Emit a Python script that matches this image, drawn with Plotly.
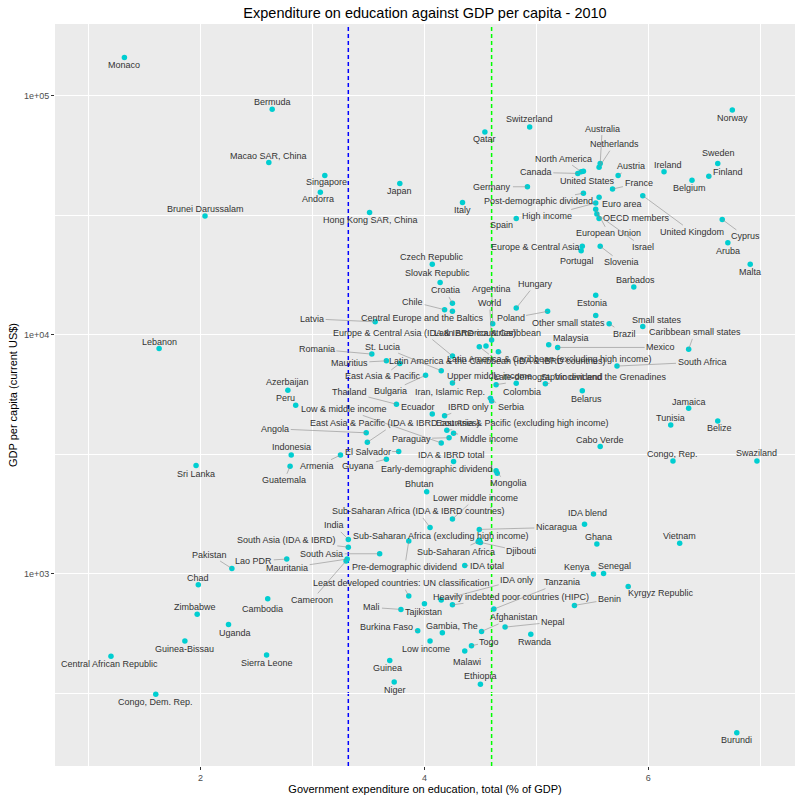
import numpy as np
import plotly.graph_objects as go

# 2010 values: education spend (% of GDP) and GDP per capita (US$)
country = [
    "Monaco", "Bermuda", "Macao SAR, China", "Brunei Darussalam", "Singapore",
    "Andorra", "Japan", "Hong Kong SAR, China", "Qatar", "Switzerland",
    "Germany", "Italy", "Spain", "High income", "Czech Republic",
    "Slovak Republic", "Croatia", "Chile", "Argentina", "Hungary",
    "Europe & Central Asia", "Portugal", "Norway", "Australia", "Netherlands",
    "North America", "Canada", "United States", "Austria", "Ireland",
    "Sweden", "Finland", "Belgium", "France", "United Kingdom",
    "Post-demographic dividend", "Euro area", "OECD members", "European Union", "Israel",
    "Cyprus", "Aruba", "Malta", "Slovenia", "Barbados",
    "Estonia", "Poland", "World", "Latvia", "Central Europe and the Baltics",
    "Other small states", "Brazil", "Small states", "Caribbean small states", "Malaysia",
    "Mexico", "South Africa", "Europe & Central Asia (IDA & IBRD countries)", "Latin America & Caribbean", "Lebanon",
    "Romania", "St. Lucia", "Mauritius", "Latin America & the Caribbean (IDA & IBRD countries)", "Latin America & Caribbean (excluding high income)",
    "East Asia & Pacific", "Upper middle income", "Late-demographic dividend", "St. Vincent and the Grenadines", "Colombia",
    "Belarus", "Thailand", "Bulgaria", "Iran, Islamic Rep.", "Serbia",
    "Azerbaijan", "Peru", "Low & middle income", "Ecuador", "IBRD only",
    "Angola", "East Asia & Pacific (IDA & IBRD countries)", "East Asia & Pacific (excluding high income)", "Middle income", "Paraguay",
    "Indonesia", "Sri Lanka", "Guatemala", "Armenia", "El Salvador",
    "Guyana", "IDA & IBRD total", "Early-demographic dividend", "Mongolia", "Bhutan",
    "Lower middle income", "Sub-Saharan Africa (IDA & IBRD countries)", "India", "South Asia (IDA & IBRD)", "Pre-demographic dividend",
    "Sub-Saharan Africa (excluding high income)", "Sub-Saharan Africa", "Djibouti", "Nicaragua", "IDA blend",
    "Ghana", "Vietnam", "South Asia", "Mauritania", "Cameroon",
    "IDA total", "Pakistan", "Lao PDR", "Chad", "Least developed countries: UN classification",
    "IDA only", "Heavily indebted poor countries (HIPC)", "Tanzania", "Mali", "Tajikistan",
    "Kenya", "Senegal", "Kyrgyz Republic", "Benin", "Cambodia",
    "Zimbabwe", "Uganda", "Guinea-Bissau", "Central African Republic", "Sierra Leone",
    "Congo, Dem. Rep.", "Afghanistan", "Nepal", "Rwanda", "Burkina Faso",
    "Gambia, The", "Togo", "Low income", "Malawi", "Guinea",
    "Ethiopia", "Niger", "Burundi", "Jamaica", "Tunisia",
    "Belize", "Cabo Verde", "Congo, Rep.", "Swaziland",
]

edu_pct = [
    1.32, 2.64, 2.61, 2.04, 3.11, 3.07, 3.78, 3.51, 4.54, 4.94,
    4.92, 4.34, 4.82, 5.53, 4.07, 4.14, 4.25, 4.18, 4.61, 4.82,
    5.41, 5.40, 6.75, 5.57, 5.56, 5.40, 5.37, 5.42, 5.73, 6.14,
    6.62, 6.54, 6.39, 5.68, 5.95, 5.42, 5.56, 5.56, 5.53, 5.54,
    6.66, 6.71, 6.91, 5.57, 5.87, 5.53, 5.10, 4.60, 3.56, 4.25,
    5.53, 5.65, 5.95, 6.36, 5.11, 5.19, 5.72, 4.25, 4.55, 1.63,
    3.53, 4.15, 3.66, 4.49, 4.66, 3.78, 4.25, 4.64, 5.08, 4.82,
    5.41, 3.75, 4.01, 4.59, 4.60, 2.78, 2.85, 4.15, 4.07, 4.18,
    3.48, 3.49, 4.20, 4.26, 4.22, 2.81, 1.96, 2.80, 3.25, 3.77,
    3.66, 4.26, 4.64, 4.65, 4.02, 4.25, 4.05, 3.32, 3.32, 3.86,
    4.49, 4.48, 4.50, 4.49, 5.43, 5.54, 6.28, 3.60, 3.31, 3.30,
    4.36, 2.28, 2.77, 1.98, 3.86, 4.15, 4.25, 4.62, 3.79, 4.00,
    5.51, 5.60, 5.82, 5.34, 2.60, 1.97, 2.25, 1.86, 1.20, 2.59,
    1.60, 4.51, 4.72, 4.95, 3.94, 4.16, 4.42, 4.05, 4.36, 3.69,
    4.50, 3.73, 6.79, 6.36, 6.20, 6.62, 5.57, 6.22, 6.97,
]

gdp_pc = [
    144000, 87500, 52400, 31300, 46300, 39400, 42800, 32400, 70300, 73800,
    41500, 35700, 30600, 35500, 19700, 16500, 13500, 12700, 11100, 12900,
    23400, 22400, 86900, 51900, 50100, 48000, 47200, 48200, 46300, 48000,
    51900, 45900, 44200, 40600, 38100, 39000, 37500, 30600, 33400, 31900,
    30300, 24200, 19700, 23400, 15800, 14600, 12500, 9480, 11300, 12500,
    12000, 11100, 10800, 8670, 9060, 8830, 7380, 8130, 8950, 8750,
    8280, 7060, 7760, 8890, 8470, 7570, 6270, 6170, 6220, 6250,
    5820, 5110, 6750, 5410, 5270, 5850, 5060, 3520, 4650, 4570,
    3880, 3540, 3980, 3860, 3700, 3130, 2830, 2810, 3130, 3240,
    3010, 2940, 2690, 2630, 2200, 1690, 1560, 1390, 1290, 1370,
    1380, 1360, 1350, 1530, 1610, 1330, 1340, 1210, 1150, 1130,
    1080, 1050, 1150, 897, 805, 776, 740, 710, 708, 748,
    996, 1000, 883, 736, 785, 675, 612, 522, 451, 456,
    313, 573, 597, 557, 577, 565, 499, 522, 474, 433,
    344, 352, 216, 4910, 4180, 4350, 3400, 2960, 2960,
]

# reference lines (world and South Asia values)
world_edu, world_gdp = 4.60, 9480
sa_edu, sa_gdp = 3.32, 1290

# label placement (pixel offset of each label from its point)
label_dx = [
    0, 0, 0, 0, 2, -2, 0, 1, 0, 0,
    -35, 0, -15, -49, 0, -3, -7, -32, -1, 19,
    -47, -4, 0, 2, 15, -18, -42, 4, 13, 4,
    1, 19, -3, 26, 49, -45, 23, 37, 13, 46,
    23, 0, 0, 21, 2, -4, -37, -2, -63, -30,
    -27, 15, 14, 6, 22, 103, 85, -28, 1, 0,
    -55, -59, -37, 18, 51, -17, 37, 52, 58, 6,
    4, -47, -35, -40, 19, 0, -10, -97, -14, 24,
    -91, 28, 76, 35, -38, 0, 0, -6, -23, -31,
    -28, -2, -59, 11, -7, 23, -12, -14, -62, -4,
    -38, -22, 41, 77, 3, 2, 0, -58, -60, -34,
    22, -22, -33, 0, -7, 76, 59, 68, -29, -1,
    -16, 11, 33, 35, -5, -2, 6, 0, -1, 0,
    0, 32, 48, 4, -31, 10, 18, -4, 2, -2,
    0, 1, 0, 0, 0, 2, 0, 0, 0,
]
label_dy = [
    7, -7, -7, -7, 7, 7, 7, 8, 7, -8,
    0, 8, 7, 13, -7, -10, -13, -8, -35, -24,
    1, 10, 8, -35, -23, -13, -1, 10, -9, -7,
    -11, -4, 8, -6, 36, 8, 7, 0, 24, 33,
    17, 8, 8, 16, -7, 8, 7, -37, -3, 7,
    7, 10, -7, -17, -7, 0, -4, -23, -13, -6,
    -5, -24, 2, 14, 7, 13, -7, -8, -7, 9,
    8, -12, 16, -6, 6, -8, -7, -34, -7, -9,
    -4, -19, -7, 6, 1, -8, 8, 14, 11, 0,
    7, -7, -2, 10, -8, -21, -16, -14, -7, 26,
    -4, 10, 9, -2, -11, -7, -7, 0, 9, 39,
    0, -14, 2, -7, -13, -20, -8, -27, -2, 8,
    -7, -8, 7, -6, 10, -7, 8, 8, 8, 8,
    8, -14, -5, 8, -4, -7, -4, 8, 11, 8,
    -8, 8, 7, -6, -7, 7, -7, -7, -8,
]

fig = go.Figure()
fig.add_trace(go.Scatter(
    x=edu_pct, y=gdp_pc, mode="markers", text=country,
    marker=dict(color="#00CED1", size=5.5),
    hovertemplate="%{text}<br>%{x}%<br>%{y}<extra></extra>",
    showlegend=False,
))

dash = "4px,3px"
for xv, col in [(sa_edu, "#0000FF"), (world_edu, "#00FF00")]:
    fig.add_shape(type="line", xref="x", yref="paper", x0=xv, x1=xv, y0=0, y1=1,
                  line=dict(color=col, width=1.5, dash=dash), layer="between")
for yv, col in [(sa_gdp, "#0000FF"), (world_gdp, "#00FF00")]:
    fig.add_shape(type="line", xref="paper", yref="y", x0=0, x1=1,
                  y0=np.log10(yv), y1=np.log10(yv),
                  line=dict(color=col, width=1.5, dash=dash), layer="between")

for name, xv, yv, dx, dy in zip(country, edu_pct, gdp_pc, label_dx, label_dy):
    far = (dx * dx + dy * dy) ** 0.5 > 14
    fig.add_annotation(
        x=xv, y=np.log10(yv), text=name, ax=dx, ay=dy,
        showarrow=True, arrowhead=0, arrowwidth=0.6,
        arrowcolor="#8c8c8c" if far else "rgba(0,0,0,0)",
        font=dict(family="Liberation Sans, Arial, sans-serif", size=9, color="#333333"),
    )

fig.update_layout(
    width=800, height=800,
    margin=dict(l=55, r=5, t=24, b=34),
    paper_bgcolor="white", plot_bgcolor="#EBEBEB",
    font=dict(family="Liberation Sans, Arial, sans-serif"),
    title=dict(text="Expenditure on education against GDP per capita - 2010",
               x=0.5, xref="paper", y=1 - 13 / 800, yref="container",
               yanchor="middle", font=dict(size=14.5, color="black")),
)
fig.update_xaxes(
    range=[0.70, 7.31], tickvals=[2, 4, 6], ticktext=["2", "4", "6"],
    showgrid=True, gridcolor="white", gridwidth=1.1, zeroline=False,
    minor=dict(tickvals=[1, 3, 5, 7], showgrid=True, gridcolor="white", gridwidth=0.5),
    ticks="outside", ticklen=3, tickcolor="#333333",
    tickfont=dict(size=9, color="#4D4D4D"),
    title=dict(text="Government expenditure on education, total (% of GDP)",
               font=dict(size=11, color="black"), standoff=2),
    automargin=False,
)
fig.update_yaxes(
    type="log", range=[2.195, 5.299],
    tickvals=[1000, 10000, 100000], ticktext=["1e+03", "1e+04", "1e+05"],
    showgrid=True, gridcolor="white", gridwidth=1.1, zeroline=False,
    minor=dict(tickvals=[10 ** 2.5, 10 ** 3.5, 10 ** 4.5], showgrid=True,
               gridcolor="white", gridwidth=0.5),
    ticks="outside", ticklen=3, tickcolor="#333333",
    tickfont=dict(size=9, color="#4D4D4D"),
    title=dict(text="GDP per capita (current US$)",
               font=dict(size=11, color="black"), standoff=4),
    automargin=False,
)

# the page adds a default body margin; drop it so the figure fills the window
fig.write_html("out.html", config={"displayModeBar": False},
               post_script="document.body.style.margin='0px';")
